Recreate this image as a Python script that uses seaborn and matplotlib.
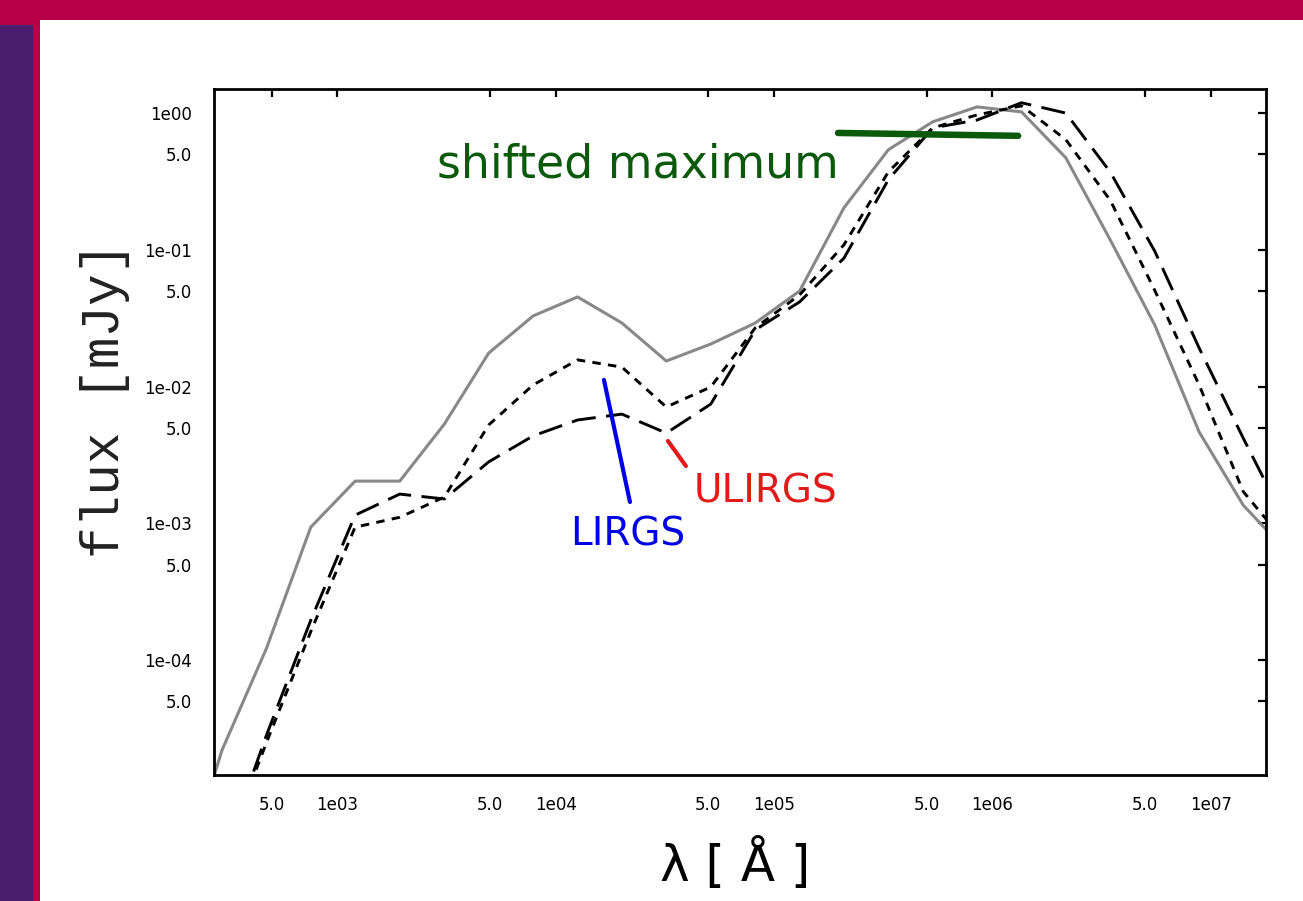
import matplotlib
matplotlib.use("Agg")
import matplotlib.pyplot as plt
import seaborn as sns
import pandas as pd
from matplotlib.patches import Rectangle
from matplotlib.ticker import FixedLocator, FixedFormatter, NullLocator

# ---------------- data ----------------
wavelength = [186, 296, 473, 755, 1205, 1930, 3090, 4930, 7880, 12590, 20100,
              32100, 51300, 82000, 131000, 209000, 334000, 533000, 851000,
              1360000, 2170000, 3470000, 5540000, 8850000, 14100000, 22600000]

flux_normal = [2.0e-6, 2.20e-5, 1.22e-4, 9.4e-4, 2.04e-3, 2.04e-3, 5.33e-3,
               1.76e-2, 3.29e-2, 4.53e-2, 2.92e-2, 1.54e-2, 2.05e-2, 2.92e-2,
               5.01e-2, 0.203, 0.54, 0.863, 1.11, 1.02, 0.471, 0.118, 0.0283,
               4.67e-3, 1.36e-3, 6.1e-4]

flux_lirg = [5e-7, 3.5e-6, 2.5e-5, 1.62e-4, 9.4e-4, 1.11e-3, 1.56e-3, 5.25e-3,
             1.03e-2, 1.57e-2, 1.39e-2, 7.1e-3, 9.95e-3, 2.69e-2, 4.69e-2,
             0.109, 0.372, 0.78, 0.97, 1.13, 0.64, 0.23, 0.0507, 0.0103,
             1.71e-3, 6.9e-4]

flux_ulirg = [5e-7, 3.4e-6, 2.83e-5, 1.96e-4, 1.15e-3, 1.64e-3, 1.51e-3,
              2.82e-3, 4.37e-3, 5.71e-3, 6.3e-3, 4.58e-3, 7.46e-3, 2.6e-2,
              4.17e-2, 0.087, 0.326, 0.78, 0.89, 1.19, 1.0, 0.37, 0.098,
              0.0192, 4.2e-3, 9.5e-4]

xtick_values = [5e2, 1e3, 5e3, 1e4, 5e4, 1e5, 5e5, 1e6, 5e6, 1e7]
xtick_labels = ["5.0", "1e03", "5.0", "1e04", "5.0", "1e05", "5.0", "1e06", "5.0", "1e07"]
ytick_values = [1.0, 0.5, 1e-1, 5e-2, 1e-2, 5e-3, 1e-3, 5e-4, 1e-4, 5e-5]
ytick_labels = ["1e00", "5.0", "1e-01", "5.0", "1e-02", "5.0", "1e-03", "5.0", "1e-04", "5.0"]

# ---------------- figure ----------------
sns.set_style("white")
plt.rcParams["font.family"] = ["DejaVu Sans"]

W, H = 1303, 901
fig = plt.figure(figsize=(W / 100, H / 100), dpi=100)
fig.patch.set_facecolor("white")

crimson = "#b8004a"
purple = "#4b1d6d"
fig.add_artist(Rectangle((0, 1 - 20 / H), 1, 20 / H, transform=fig.transFigure,
                         facecolor=crimson, edgecolor="none", zorder=0))
fig.add_artist(Rectangle((0, 0), 40 / W, 1, transform=fig.transFigure,
                         facecolor=crimson, edgecolor="none", zorder=0))
fig.add_artist(Rectangle((0, 0), 33 / W, 1 - 25 / H, transform=fig.transFigure,
                         facecolor=purple, edgecolor="none", zorder=0))

ax = fig.add_axes([214.3 / W, 1 - 775 / H, (1265.9 - 214.3) / W, (775 - 89) / H])
ax.set_facecolor("white")
ax.set_xscale("log")
ax.set_yscale("log")

df = pd.DataFrame({"wavelength": wavelength, "normal": flux_normal,
                   "lirg": flux_lirg, "ulirg": flux_ulirg})

sns.lineplot(data=df, x="wavelength", y="normal", ax=ax, color="#888888", lw=2.2)
ax.lines[-1].set_linestyle("-")
sns.lineplot(data=df, x="wavelength", y="lirg", ax=ax, color="black", lw=2.1)
ax.lines[-1].set_linestyle((0, (2.9, 2.5)))
sns.lineplot(data=df, x="wavelength", y="ulirg", ax=ax, color="black", lw=2.1)
ax.lines[-1].set_linestyle((0, (8.3, 3.6)))

ax.set_xlim(273, 1.79e7)
ax.set_ylim(1.45e-5, 1.5)

# annotations
ax.plot([196300, 1312000], [0.716, 0.682], color="#0b5a0b", lw=4.7,
        solid_capstyle="round")
ax.text(23880, 0.336, "shifted maximum", color="#0b5a0b", fontsize=33,
        ha="center", va="baseline")
ax.plot([16630, 21880], [0.0112, 1.436e-3], color="#0000e6", lw=3)
ax.text(21330, 6.95e-4, "LIRGS", color="#0000e6", fontsize=28,
        ha="center", va="baseline")
ax.plot([32660, 39470], [4.01e-3, 2.63e-3], color="#e31a1a", lw=3)
ax.text(91400, 1.435e-3, "ULIRGS", color="#e31a1a", fontsize=28,
        ha="center", va="baseline")

# ticks
ax.xaxis.set_major_locator(FixedLocator(xtick_values))
ax.xaxis.set_major_formatter(FixedFormatter(xtick_labels))
ax.xaxis.set_minor_locator(NullLocator())
ax.yaxis.set_major_locator(FixedLocator(ytick_values))
ax.yaxis.set_major_formatter(FixedFormatter(ytick_labels))
ax.yaxis.set_minor_locator(NullLocator())
ax.tick_params(axis="both", which="major", direction="in", length=6, width=1.6,
               top=True, right=True, labelsize=12, colors="black")
ax.tick_params(axis="x", pad=15)
ax.tick_params(axis="y", pad=16)
for s in ax.spines.values():
    s.set_visible(True)
    s.set_linewidth(2)
    s.set_color("black")

ax.set_xlabel("λ [ Å ]", fontsize=36, va="center", color="black")
ax.xaxis.set_label_coords((735 - 214.3) / (1265.9 - 214.3), (775 - 865) / (775 - 89))
ax.set_ylabel("flux [mJy]", fontsize=38, family=["Liberation Mono", "DejaVu Sans Mono"],
              va="center", color="#222222")
ax.yaxis.set_label_coords((105 - 214.3) / (1265.9 - 214.3), (775 - 400) / (775 - 89))

fig.savefig("out.png", dpi=100, facecolor=fig.get_facecolor())
